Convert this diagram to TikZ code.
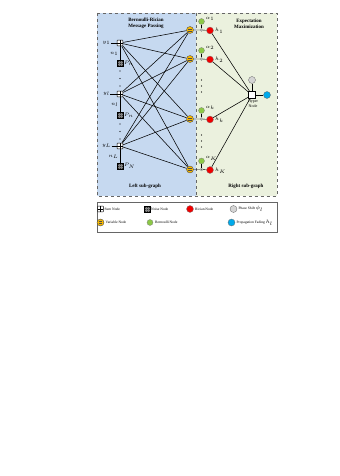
\documentclass[tikz,border=0pt]{standalone}
\usepackage{fontspec}
\setmainfont{Liberation Serif}
\usepackage{amsmath, amssymb}
\usetikzlibrary{positioning, backgrounds}
\definecolor{lsgblue}{RGB}{198,217,240}
\definecolor{rsggreen}{RGB}{235,241,222}
\definecolor{varyellow}{RGB}{247,185,0}
\definecolor{bergreen}{RGB}{140,200,70}
\definecolor{ricred}{RGB}{240,0,0}
\definecolor{fadblue}{RGB}{0,170,235}
\definecolor{phgray}{RGB}{212,212,212}
\tikzset{
    sumnode/.style={draw, fill=white, rounded corners=0.6, minimum size=6, inner sep=0, line width=0.5,
        path picture={\draw[line width=0.4] (path picture bounding box.north) -- (path picture bounding box.south)
            (path picture bounding box.west) -- (path picture bounding box.east);}},
    noisenode/.style={draw, fill=black!80, minimum size=6, inner sep=0, line width=0.4,
        path picture={\draw[gray, line width=0.3] ([xshift=-1pt]path picture bounding box.north) -- ([xshift=-1pt]path picture bounding box.south)
            ([xshift=1pt]path picture bounding box.north) -- ([xshift=1pt]path picture bounding box.south)
            ([yshift=-1pt]path picture bounding box.west) -- ([yshift=-1pt]path picture bounding box.east)
            ([yshift=1pt]path picture bounding box.west) -- ([yshift=1pt]path picture bounding box.east);}},
    varnode/.style={circle, draw=black!70, fill=varyellow, minimum size=7, inner sep=0, line width=0.4,
        path picture={\draw[line width=0.35] ([xshift=-2pt,yshift=0.9pt]path picture bounding box.center) -- ++(4pt,0)
            ([xshift=-2pt,yshift=-0.9pt]path picture bounding box.center) -- ++(4pt,0);}},
    crossnode/.style={circle, draw=black!60, fill=white, minimum size=3, inner sep=0, line width=0.3,
        path picture={\draw[line width=0.25] (path picture bounding box.north west) -- (path picture bounding box.south east)
            (path picture bounding box.north east) -- (path picture bounding box.south west);}},
    bernode/.style={circle, draw=black!50, fill=bergreen, minimum size=6, inner sep=0, line width=0.3},
    ricnode/.style={circle, draw=black!50, fill=ricred, minimum size=7, inner sep=0, line width=0.3},
    phnode/.style={circle, draw=black!60, fill=phgray, minimum size=7, inner sep=0, line width=0.3},
    fadnode/.style={circle, draw=black!60, fill=fadblue, minimum size=7, inner sep=0, line width=0.3},
    hypnode/.style={draw, fill=white, minimum size=7, inner sep=0, line width=0.4},
    edge/.style={line width=0.55},
    lbl/.style={font=\fontsize{4.8}{5.4}\selectfont, inner sep=0.5},
    hdr/.style={font=\fontsize{5}{5.8}\selectfont\bfseries, align=center, inner sep=0},
    leg/.style={font=\fontsize{3.6}{4.2}\selectfont, anchor=west, inner sep=0}
}
\begin{document}
\begin{tikzpicture}[x=1bp, y=-1bp]
    \useasboundingbox[fill=white] (0,0) rectangle (339,476);
    \fill[lsgblue] (97,13) rectangle (196,196);
    \fill[rsggreen] (196,13) rectangle (277,196);
    \draw[black!60, dashed, line width=0.5] (97,13) rectangle (277,196);
    \draw[black!60, dashed, line width=0.5] (196,13) -- (196,196);
    \node[hdr] at (146,23.5) {Bernoulli-Rician\\Message Passing};
    \node[hdr] at (249,23.5) {Expectation\\Maximization};
    \node[hdr] at (145,186) {Left sub-graph};
    \node[hdr] at (246,186) {Right sub-graph};

    % left sub-graph
    \foreach \i/\ys/\yn/\ylab/\nlab/\plab in {1/43/63/1/1/n, 2/94/115/l/l/n, 3/146/166/L/L/N} {
        \node[sumnode] (sum\i) at (120,\ys) {};
        \node[noisenode] (noise\i) at (120,\yn) {};
        \node[lbl] (y\i) at (106.5,\ys) {$y_{\ylab}$};
        \node[lbl, anchor=east] at (119,\ys+11) {$n_{\nlab}$};
        \node[lbl, anchor=west] at (123.5,\yn) {$P_{\plab}$};
        \draw[line width=0.4] (y\i) -- (sum\i);
        \draw[line width=0.4] (sum\i) -- (noise\i);
    }
    \foreach \y in {71,78.5,86, 124,131.5,139}
        \fill (120,\y) circle (0.6);

    % right sub-graph
    \foreach \i/\y/\k in {1/30/1, 2/59/2, 3/119/k, 4/169.5/K} {
        \node[varnode] (var\i) at (190,\y) {};
        \node[crossnode] (cr\i) at (201.5,\y) {};
        \node[bernode] (ber\i) at (201.5,\y-8.5) {};
        \node[ricnode] (ric\i) at (210,\y+0.5) {};
        \node[lbl, anchor=west] at (205,\y-11) {$\alpha_{\k}$};
        \node[lbl, anchor=west] at (214.5,\y+1) {$h_{\k}$};
        \draw[line width=0.4] (var\i) -- (cr\i) -- (ric\i);
        \draw[line width=0.4] (cr\i) -- (ber\i);
    }
    \foreach \y in {80,86,92, 135,141,147}
        \fill (201.5,\y) circle (0.6);

    \foreach \s in {1,2,3}
        \foreach \v in {1,...,4}
            \draw[edge] (sum\s) -- (var\v);

    \node[hypnode] (hyp) at (252,95) {};
    \node[phnode] (phs) at (252,80) {};
    \node[fadnode] (fad) at (267,95) {};
    \node[lbl, font=\fontsize{4}{4.6}\selectfont, align=center, anchor=north] at (253,99.5) {Hyper\\Node};
    \draw[line width=0.4] (phs) -- (hyp) -- (fad);
    \foreach \i in {1,...,4}
        \draw[edge] (ric\i) -- (hyp);

    % legend
    \draw[black!60, line width=0.5, fill=white] (97,202) rectangle (277,232);
    \node[sumnode] (lsum) at (100.5,209) {};
    \node[leg] at (104.5,209) {Sum Node};
    \node[noisenode] (lnoise) at (147,209) {};
    \node[leg] at (151,209) {Noise Node};
    \node[ricnode] (lric) at (190,209) {};
    \node[leg] at (195,209) {Rician Node};
    \node[phnode] (lphs) at (233.5,209) {};
    \node[leg] at (238.5,209) {Phase Shift $\phi_l$};
    \node[varnode] (lvar) at (100.5,222.5) {};
    \node[leg] at (105.5,222.5) {Variable Node};
    \node[bernode] (lber) at (150,222.5) {};
    \node[leg] at (155,222.5) {Bernoulli Node};
    \node[fadnode] (lfad) at (231.5,222.5) {};
    \node[leg] at (236.5,222.5) {Propagation Fading $h_l$};
\end{tikzpicture}
\end{document}
